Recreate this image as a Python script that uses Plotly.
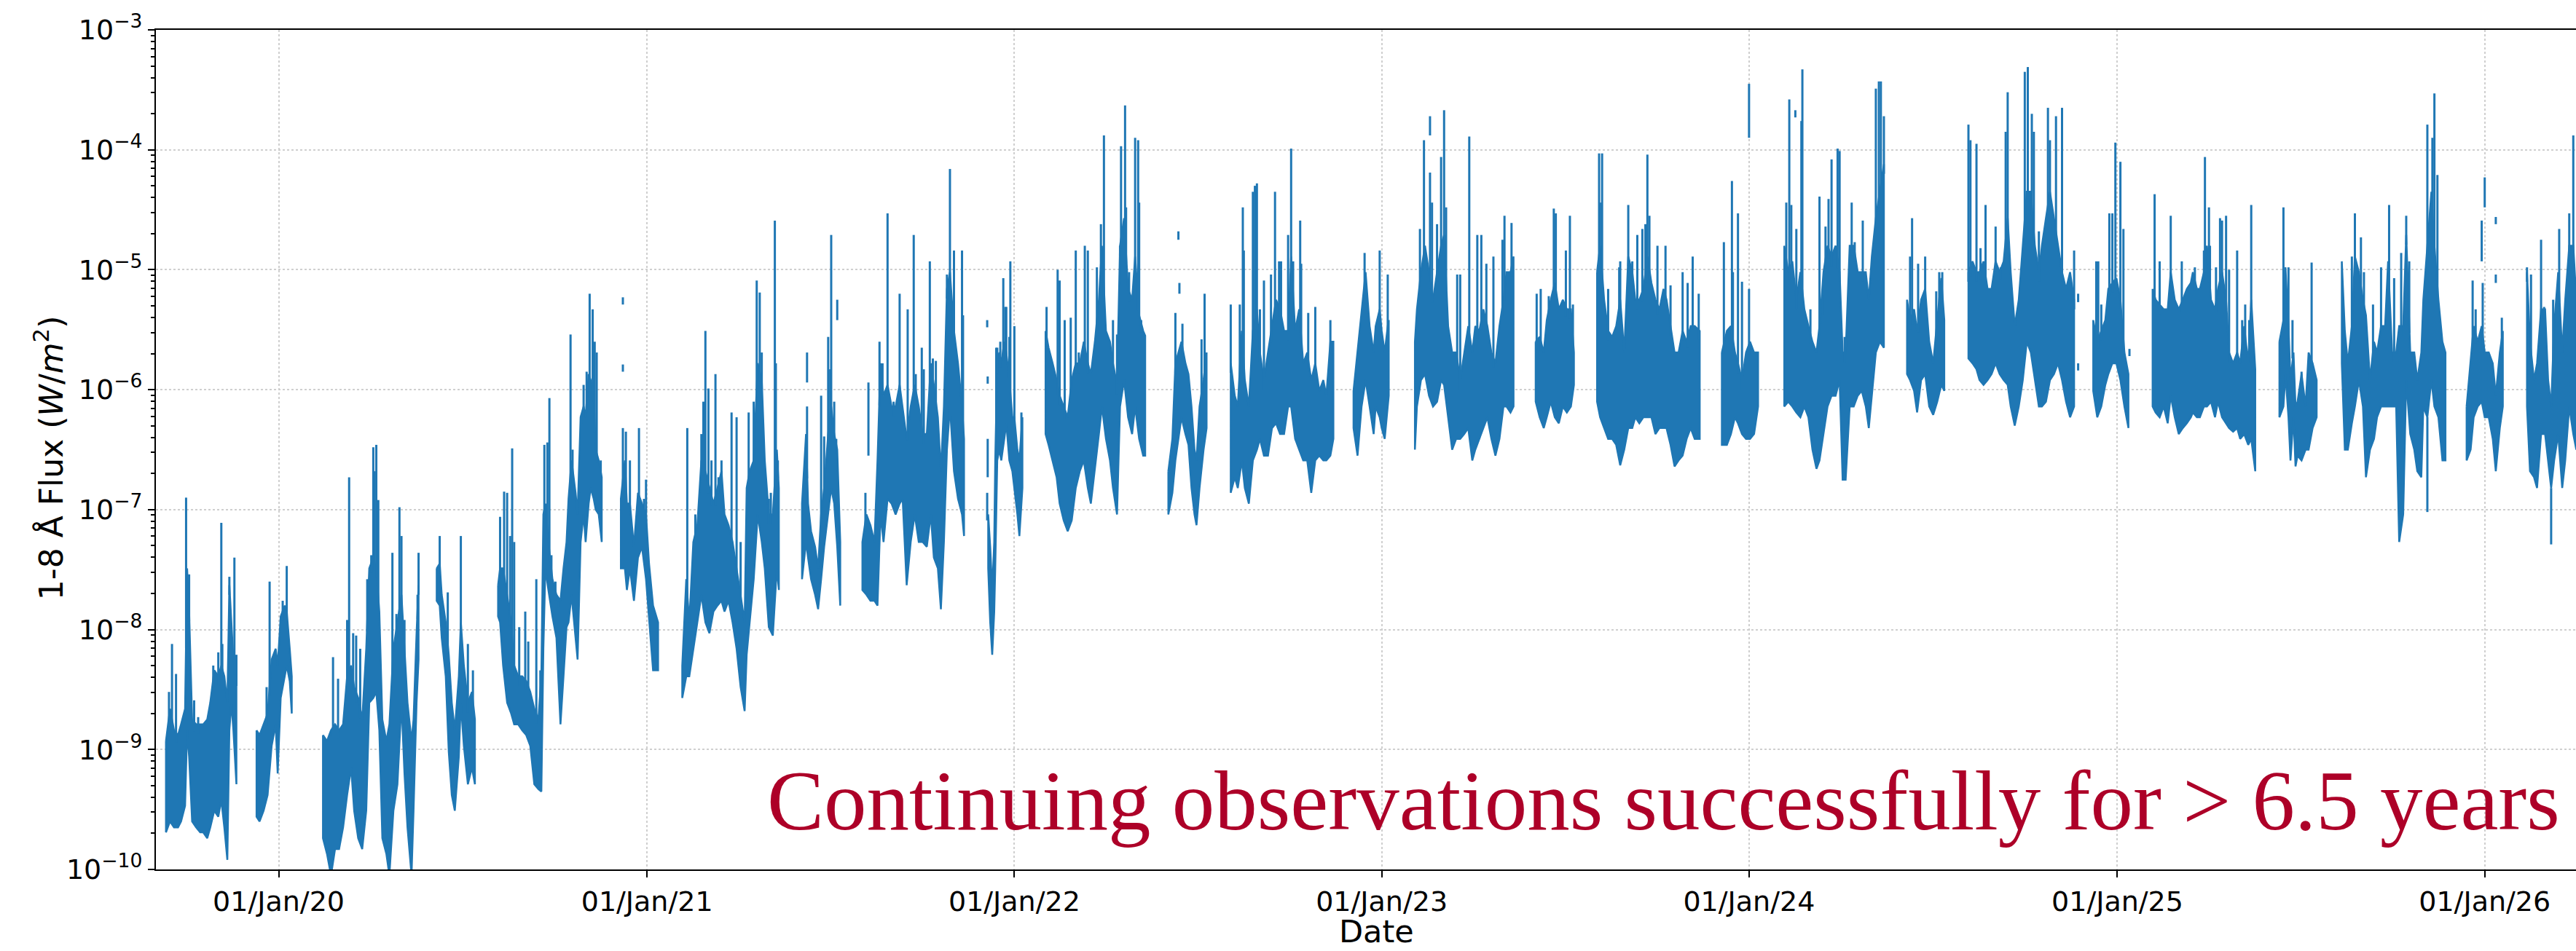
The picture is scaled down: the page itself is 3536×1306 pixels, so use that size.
import numpy as np
import pandas as pd
import plotly.graph_objects as go

# ---------------------------------------------------------------------------
# Data.
# Days are counted from EPOCH; flux values are log10(W/m^2).
# Each observing segment lists (day, log10 lower envelope, log10 upper envelope)
# ---------------------------------------------------------------------------
EPOCH = pd.Timestamp("2020-01-01")

seg_2019_09 = [(-112,-9.69,-8.93),(-108,-9.60,-8.66),(-104,-9.65,-8.84),(-100,-9.65,-8.88),(-97,-9.60,-8.79),
               (-93,-9.47,-8.66),(-91,-8.84,-7.49),(-89,-9.06,-7.85),(-86,-9.60,-8.75),(-82,-9.65,-8.79),
               (-78,-9.69,-8.79),(-75,-9.69,-8.79),(-71,-9.74,-8.75),(-68,-9.65,-8.61),(-64,-9.51,-8.34),
               (-60,-9.56,-8.39),(-57,-9.42,-8.30),(-54,-9.65,-8.39),(-51,-9.92,-8.61),(-49,-8.84,-7.63),
               (-47,-8.61,-7.94),(-45,-8.84,-8.25),(-42,-9.29,-8.39)]
seg_2019_12 = [(-22,-9.56,-8.84),(-19,-9.60,-8.88),(-15,-9.51,-8.79),(-11,-9.38,-8.70),(-7,-8.97,-8.25),
               (-3,-8.79,-8.16),(-1,-9.20,-8.30),(2,-8.57,-7.89),(6,-8.39,-7.80),(8,-8.30,-7.85),
               (11,-8.43,-8.16),(13,-8.70,-8.39)]
seg_2020_02 = [(44,-9.74,-8.88),(48,-9.87,-8.93),(52,-10.05,-8.84),(56,-9.83,-8.79),(60,-9.83,-8.84),
               (64,-9.65,-8.79),(68,-9.38,-8.39),(72,-9.15,-8.30),(75,-9.51,-8.48),(79,-9.74,-8.57),
               (83,-9.83,-8.75),(87,-9.51,-8.16),(90,-8.61,-7.49),(94,-8.57,-7.40),(97,-8.52,-7.49),
               (100,-8.84,-7.85),(103,-9.74,-8.75),(107,-9.87,-8.93),(110,-10.05,-8.79),(114,-9.51,-8.16),
               (118,-9.29,-7.94),(122,-8.61,-7.71),(125,-9.20,-8.16),(128,-9.65,-8.61),(132,-10.05,-8.93),
               (134,-9.51,-8.75),(137,-8.61,-8.03),(139,-8.25,-7.63)]
seg_2020_06 = [(157,-7.76,-7.49),(160,-7.80,-7.45),(162,-8.07,-7.71),(166,-8.39,-7.94),(169,-9.02,-8.21),
               (172,-9.38,-8.61),(175,-9.51,-8.84),(179,-9.06,-8.39),(181,-8.61,-7.94),(184,-8.97,-8.30),
               (188,-9.29,-8.61),(192,-9.15,-8.52),(195,-9.29,-8.75)]
seg_2020_08 = [(218,-7.89,-7.63),(220,-7.94,-7.49),(223,-8.30,-7.49),(227,-8.61,-7.71),(231,-8.70,-7.94),
               (234,-8.79,-8.30),(238,-8.79,-8.39),(242,-8.84,-8.39),(246,-8.88,-8.43),(250,-8.97,-8.52),
               (254,-9.29,-8.66),(258,-9.33,-8.75),(261,-9.35,-8.39),(263,-8.16,-7.04),(265,-7.49,-6.95),
               (268,-7.67,-7.27),(272,-7.89,-7.58),(276,-8.07,-7.71),(280,-8.79,-7.76),(283,-8.39,-7.49),
               (286,-7.98,-7.27),(288,-7.94,-6.91),(291,-7.71,-6.59),(295,-8.07,-6.86),(297,-8.25,-7.04),
               (300,-7.27,-6.23),(303,-7.04,-6.14),(305,-7.27,-6.23),(308,-6.95,-5.87),(310,-6.82,-5.92),
               (313,-6.91,-6.05),(315,-7.00,-6.50),(318,-7.04,-6.59),(321,-7.27,-6.73)]
seg_2020_12 = [(340,-7.49,-6.91),(344,-7.49,-6.59),(346,-7.67,-6.95),(349,-7.49,-6.95),(353,-7.76,-7.31),
               (357,-7.40,-6.86),(361,-7.31,-6.95),(365,-7.58,-7.04),(368,-7.89,-7.45),(372,-8.34,-7.80),
               (377,-8.34,-7.94)]
seg_2021_02 = [(401,-8.57,-8.30),(405,-8.39,-7.58),(408,-8.39,-7.94),(412,-8.16,-7.27),(416,-7.94,-7.13),
               (420,-7.71,-6.59),(424,-7.94,-6.68),(428,-8.03,-6.82),(432,-7.85,-6.95),(436,-7.80,-6.82),
               (440,-7.76,-6.68),(443,-7.85,-7.04),(447,-7.76,-7.13),(451,-7.94,-7.27),(455,-8.16,-7.49),
               (459,-8.48,-7.71),(463,-8.68,-7.94),(465,-8.21,-6.82),(468,-7.94,-6.68),(472,-7.58,-6.59),
               (476,-7.04,-5.78),(480,-7.27,-5.92),(483,-7.49,-6.59),(487,-7.98,-7.04),(491,-8.05,-7.04),
               (495,-7.49,-6.50),(497,-7.67,-6.82)]
seg_2021_06 = [(520,-7.58,-6.95),(524,-7.27,-6.37),(526,-7.40,-6.95),(529,-7.58,-7.18),(533,-7.71,-7.31),
               (536,-7.83,-7.49),(539,-7.58,-7.04),(542,-7.31,-6.82),(546,-7.04,-6.37),(549,-6.82,-6.14),
               (552,-6.95,-6.37),(555,-7.31,-6.50),(558,-7.80,-7.27)]
seg_2021_08 = [(580,-7.67,-7.27),(584,-7.71,-7.04),(588,-7.76,-7.13),(592,-7.76,-7.27),(595,-7.80,-6.59),
               (598,-7.04,-5.78),(601,-7.27,-6.05),(605,-6.91,-5.96),(609,-6.95,-6.14),(613,-7.04,-6.14),
               (617,-6.95,-5.96),(620,-6.91,-6.14),(624,-7.63,-6.41),(628,-7.27,-6.14),(632,-7.04,-5.96),
               (636,-7.27,-6.14),(640,-7.27,-6.37),(644,-7.31,-6.37),(648,-7.04,-5.78),(651,-7.40,-5.96),
               (655,-7.49,-6.23),(658,-7.83,-6.68),(661,-7.27,-6.14),(664,-6.50,-5.16),(667,-6.14,-5.02),
               (671,-6.68,-5.51),(675,-6.91,-5.78),(679,-7.04,-6.14),(681,-7.22,-6.41)]
seg_2021_12 = [(705,-7.49,-7.04),(707,-7.94,-7.31),(709,-8.21,-7.67),(711,-7.85,-7.27),(712,-7.49,-6.59),
               (714,-6.59,-5.78),(716,-6.50,-5.69),(718,-6.59,-5.78),(721,-6.41,-5.60),(723,-6.28,-5.69),
               (726,-6.59,-5.92),(729,-6.68,-6.23),(731,-6.82,-6.23),(734,-7.04,-6.50),(736,-7.22,-6.59),
               (739,-6.82,-6.23)]
seg_2022_02 = [(762,-6.37,-5.51),(765,-6.46,-5.65),(769,-6.59,-5.78),(773,-6.73,-5.92),(776,-6.95,-6.05),
               (780,-7.09,-6.14),(784,-7.18,-6.23),(788,-7.09,-5.92),(792,-6.82,-5.78),(796,-6.68,-5.78),
               (800,-6.59,-5.60),(804,-6.82,-5.78),(807,-6.95,-5.87),(811,-6.68,-5.60),(815,-6.37,-5.25),
               (818,-6.14,-4.80),(822,-6.41,-5.51),(826,-6.59,-5.60),(829,-6.82,-5.78),(833,-7.04,-5.96),
               (836,-6.14,-4.80),(840,-5.92,-4.57),(844,-6.23,-5.16),(848,-6.37,-5.25),(851,-6.14,-4.89),
               (855,-6.41,-5.38),(859,-6.55,-5.51),(861,-6.55,-5.55)]
seg_2022_06 = [(884,-7.04,-6.68),(888,-6.86,-6.41),(891,-6.59,-5.78),(894,-6.41,-5.69),(897,-6.23,-5.60),
               (901,-6.37,-5.78),(904,-6.46,-5.87),(907,-6.82,-6.14),(910,-7.04,-6.50),(912,-7.13,-6.59),
               (915,-6.82,-6.14),(919,-6.50,-5.92),(922,-6.32,-5.69)]
seg_2022_08 = [(946,-6.86,-5.78),(950,-6.73,-6.05),(953,-6.82,-6.14),(957,-6.59,-5.51),(960,-6.82,-5.92),
               (964,-6.95,-6.14),(968,-6.59,-5.51),(972,-6.50,-5.33),(975,-6.41,-5.69),(979,-6.55,-5.92),
               (983,-6.55,-5.69),(987,-6.32,-5.47),(991,-6.28,-5.25),(995,-6.37,-5.33),(999,-6.37,-5.51),
               (1003,-6.14,-5.51),(1006,-6.14,-4.89),(1010,-6.41,-5.51),(1014,-6.50,-5.33),(1018,-6.59,-5.78),
               (1022,-6.59,-5.69),(1026,-6.86,-5.92),(1030,-6.59,-5.78),(1034,-6.55,-6.01),(1038,-6.59,-5.92),
               (1041,-6.59,-6.05),(1045,-6.55,-5.60),(1048,-6.41,-5.60)]
seg_2022_12 = [(1068,-6.32,-6.01),(1072,-6.55,-5.69),(1076,-6.14,-5.33),(1080,-5.92,-5.02),(1084,-6.14,-5.47),
               (1088,-6.37,-5.69),(1090,-6.14,-5.47),(1094,-6.23,-5.33),(1096,-6.32,-5.51),(1099,-6.41,-5.69),
               (1102,-6.14,-5.47),(1103,-6.05,-5.42)]
seg_2023_02 = [(1129,-6.50,-5.60),(1131,-6.14,-5.33),(1135,-5.92,-5.02),(1139,-5.87,-4.80),(1143,-6.05,-5.02),
               (1147,-6.14,-5.25),(1151,-6.10,-5.02),(1155,-5.92,-4.80),(1158,-5.96,-4.71),(1162,-6.23,-5.47),
               (1166,-6.50,-5.69),(1170,-6.41,-5.69),(1174,-6.41,-5.92),(1178,-6.37,-5.69),(1182,-6.32,-5.47),
               (1186,-6.59,-5.69),(1189,-6.50,-5.47),(1193,-6.41,-5.51),(1197,-6.32,-5.33),(1201,-6.23,-5.47),
               (1205,-6.41,-5.69),(1209,-6.55,-5.78),(1213,-6.41,-5.47),(1217,-6.14,-5.25),(1220,-6.14,-5.02),
               (1224,-6.19,-5.02),(1227,-6.14,-4.89)]
seg_2023_06 = [(1249,-6.10,-5.60),(1253,-6.23,-5.56),(1257,-6.32,-5.69),(1260,-6.23,-5.42),(1264,-6.10,-5.25),
               (1268,-6.23,-5.11),(1272,-6.28,-5.33),(1276,-6.14,-5.25),(1280,-6.19,-5.33),(1284,-6.14,-5.33),
               (1287,-5.96,-5.69)]
seg_2023_08 = [(1310,-6.10,-5.02),(1313,-6.23,-4.80),(1317,-6.32,-5.25),(1321,-6.41,-5.51),(1325,-6.41,-5.56),
               (1329,-6.46,-5.47),(1333,-6.63,-5.25),(1337,-6.50,-5.69),(1341,-6.32,-4.89),(1345,-6.32,-5.02),
               (1348,-6.23,-5.25),(1352,-6.28,-5.25),(1356,-6.23,-5.16),(1360,-6.23,-4.89),(1364,-6.23,-5.11),
               (1368,-6.37,-5.25),(1372,-6.32,-5.33),(1376,-6.32,-5.16),(1379,-6.32,-5.25),(1383,-6.46,-5.47),
               (1387,-6.64,-5.69),(1391,-6.59,-5.69),(1395,-6.55,-5.51),(1399,-6.41,-5.60),(1403,-6.32,-5.47),
               (1407,-6.41,-5.47),(1412,-6.41,-5.51)]
seg_2023_12 = [(1434,-6.46,-5.69),(1439,-6.46,-5.51),(1443,-6.37,-5.47),(1447,-6.23,-5.69),(1450,-6.28,-5.78),
               (1454,-6.37,-5.92),(1458,-6.41,-5.69),(1462,-6.41,-5.60),(1466,-6.37,-5.69),(1470,-6.14,-5.69)]
seg_2024_02 = [(1496,-6.14,-4.80),(1500,-6.10,-5.02),(1504,-6.14,-4.93),(1508,-6.19,-5.25),(1512,-6.23,-5.02),
               (1516,-6.14,-5.33),(1520,-6.23,-5.47),(1524,-6.50,-5.60),(1528,-6.66,-5.69),(1531,-6.59,-5.47),
               (1535,-6.37,-5.02),(1539,-6.14,-4.80),(1543,-6.05,-4.89),(1547,-6.05,-4.80),(1551,-5.92,-5.02),
               (1554,-6.75,-5.69),(1557,-6.75,-5.69),(1561,-6.14,-4.80),(1565,-6.14,-4.80),(1569,-6.05,-5.02),
               (1573,-6.01,-5.02),(1577,-6.14,-5.02),(1580,-6.32,-5.25),(1583,-6.05,-4.89),(1587,-5.69,-4.57),
               (1591,-5.60,-4.35),(1595,-5.65,-4.12)]
seg_2024_06 = [(1618,-5.87,-5.25),(1621,-5.92,-5.42),(1625,-6.01,-5.33),(1628,-6.19,-5.51),(1632,-5.92,-5.25),
               (1636,-5.87,-5.16),(1640,-6.14,-5.60),(1644,-6.21,-5.78),(1648,-6.10,-5.42),(1652,-5.96,-5.07),
               (1655,-6.01,-5.42)]
seg_2024_08 = [(1679,-5.74,-5.02),(1683,-5.78,-4.93),(1687,-5.83,-5.02),(1690,-5.92,-5.02),(1694,-5.96,-4.93),
               (1698,-5.92,-5.16),(1702,-5.87,-5.16),(1706,-5.78,-4.93),(1710,-5.87,-5.02),(1714,-5.92,-4.93),
               (1718,-5.96,-4.57),(1721,-6.14,-5.02),(1725,-6.30,-5.47),(1729,-6.14,-5.25),(1733,-5.92,-4.80),
               (1737,-5.60,-4.35),(1741,-5.69,-4.35),(1745,-5.92,-4.80),(1749,-6.14,-5.02),(1752,-6.14,-4.80),
               (1756,-6.10,-4.57),(1760,-5.92,-4.35),(1764,-5.87,-4.57),(1768,-5.78,-4.80),(1772,-5.92,-5.02),
               (1776,-6.10,-5.16),(1780,-6.23,-5.02),(1784,-6.14,-5.25)]
seg_2024_12 = [(1803,-6.01,-5.42),(1807,-6.23,-5.60),(1811,-6.14,-5.51),(1815,-5.96,-5.42),(1818,-5.87,-5.16),
               (1822,-5.78,-5.11),(1826,-5.78,-5.07),(1830,-5.92,-5.25),(1834,-6.14,-5.69),(1838,-6.32,-5.87)]
seg_2025_02 = [(1862,-6.14,-5.16),(1865,-6.19,-5.25),(1869,-6.23,-5.29),(1873,-6.14,-5.33),(1877,-6.28,-5.33),
               (1880,-6.05,-5.02),(1884,-6.23,-5.25),(1888,-6.37,-5.33),(1892,-6.32,-5.25),(1896,-6.28,-5.16),
               (1900,-6.23,-5.11),(1902,-6.19,-5.02),(1906,-6.23,-5.16),(1909,-6.23,-5.16),(1913,-6.14,-5.02),
               (1916,-6.14,-4.80),(1920,-6.10,-5.25),(1924,-6.23,-5.33),(1927,-6.10,-5.16),(1931,-6.23,-5.02),
               (1935,-6.28,-5.25),(1938,-6.32,-5.69),(1942,-6.35,-5.78),(1946,-6.32,-5.69),(1949,-6.41,-5.78),
               (1953,-6.37,-5.47),(1957,-6.46,-5.78),(1960,-6.41,-5.25),(1964,-6.68,-5.83)]
seg_2025_06 = [(1988,-6.23,-5.60),(1992,-6.14,-5.42),(1994,-5.87,-4.98),(1997,-6.23,-5.47),(1999,-6.59,-5.92),
               (2002,-6.23,-5.69),(2004,-6.64,-6.14),(2006,-6.55,-6.10),(2010,-6.59,-5.87),(2014,-6.50,-6.14),
               (2017,-6.50,-5.69),(2021,-6.32,-5.78),(2025,-6.23,-5.92)]
seg_2025_08 = [(2050,-5.78,-4.93),(2053,-6.50,-5.51),(2056,-6.50,-5.78),(2060,-6.28,-5.47),(2063,-6.14,-4.89),
               (2067,-5.92,-5.02),(2071,-6.14,-5.25),(2074,-6.73,-5.38),(2078,-6.50,-5.92),(2082,-6.41,-5.60),
               (2085,-6.23,-5.69),(2089,-6.14,-5.47),(2093,-6.14,-5.47),(2096,-6.14,-4.93),(2100,-6.14,-5.69),
               (2104,-6.14,-5.69),(2107,-7.27,-5.47),(2111,-7.04,-5.47),(2114,-5.92,-4.71),(2118,-6.37,-5.69),
               (2122,-6.50,-5.69),(2125,-6.68,-5.92),(2129,-6.73,-5.69),(2131,-6.14,-5.25),(2135,-6.23,-4.80),
               (2139,-5.92,-4.35),(2142,-6.14,-4.80),(2146,-6.23,-5.25),(2150,-6.59,-5.60),(2153,-6.59,-5.69)]
seg_2025_12 = [(2174,-6.59,-6.14),(2178,-6.50,-5.78),(2181,-6.23,-5.47),(2185,-6.14,-5.60),(2189,-6.10,-5.47),
               (2192,-6.23,-5.69),(2196,-6.23,-5.69),(2200,-6.41,-5.78),(2203,-6.68,-6.05),(2207,-6.32,-5.69),
               (2210,-6.14,-5.51)]
seg_2026_02 = [(2234,-6.14,-5.02),(2237,-6.68,-5.60),(2241,-6.73,-5.92),(2244,-6.82,-5.78),(2248,-6.37,-5.33),
               (2252,-6.37,-5.33),(2255,-6.59,-5.92),(2258,-6.82,-6.14),(2261,-6.59,-5.47),(2265,-6.37,-5.02),
               (2269,-6.82,-5.69),(2272,-6.59,-5.25),(2276,-6.14,-4.80),(2280,-6.37,-4.80),(2283,-6.50,-5.25)]

# Flare spikes: (day, log10 peak flux)
spikes = [(-109,-8.52),(-106,-8.12),(-102,-8.37),(-92,-6.90),(-89,-7.54),(-84,-8.59),(-80,-8.73),(-65,-8.30),
          (-60,-8.19),(-57,-7.11),(-56,-8.12),(-49,-7.56),(-44,-7.40),(-42,-8.21),
          (-12,-8.48),(-9,-7.60),(4,-7.76),(8,-7.47),
          (54,-8.23),(59,-8.41),(68,-7.92),(70,-6.73),(74,-8.03),(77,-8.05),(81,-8.16),(88,-7.58),(92,-7.38),
          (94,-6.48),(95,-6.68),(97,-6.46),(99,-6.92),(113,-7.36),(117,-7.87),(120,-6.98),(122,-7.22),
          (125,-7.92),(138,-7.71),(139,-7.36),
          (160,-7.22),(168,-7.69),(181,-7.22),(188,-8.12),(193,-8.34),
          (220,-7.06),(224,-6.85),(227,-6.86),(230,-7.22),(232,-6.49),(234,-7.27),(239,-7.98),(245,-7.85),
          (248,-8.10),(256,-7.58),(260,-8.34),(264,-6.46),(267,-6.44),(269,-6.07),(271,-7.38),(275,-7.60),
          (278,-7.76),(290,-5.54),(292,-6.50),(299,-6.86),(301,-6.21),(303,-5.96),(306,-5.85),(309,-5.20),
          (312,-5.33),(314,-5.60),(316,-5.69),(320,-6.59),
          (342,-6.32),(345,-6.35),(349,-6.59),(358,-6.32),(363,-6.91),(365,-6.75),
          (406,-6.32),(414,-7.04),(420,-6.37),(422,-6.10),(424,-5.51),(427,-5.99),(430,-6.59),(434,-5.87),
          (437,-6.73),(440,-6.59),(450,-6.19),(455,-6.23),(459,-7.27),(467,-6.19),(472,-6.10),(475,-5.09),
          (478,-5.19),(480,-5.69),(487,-6.91),(489,-6.86),(493,-4.59),(494,-5.78),(496,-6.59),
          (525,-6.14),(539,-6.05),(542,-6.39),(546,-5.56),(548,-5.83),(549,-4.71),(552,-6.10),(554,-6.41),
          (583,-6.86),(597,-5.60),(600,-5.78),(605,-4.53),(611,-6.10),(617,-5.20),(625,-5.33),(631,-4.71),
          (633,-5.87),(639,-5.65),(641,-5.83),(647,-4.93),(650,-5.74),(653,-5.76),(664,-5.04),(667,-4.16),
          (671,-4.84),(679,-4.84),(680,-5.38),
          (713,-5.65),(714,-5.65),(717,-5.60),(720,-5.07),(722,-5.31),(723,-5.31),(726,-5.56),(727,-4.93),
          (731,-5.47),(738,-6.19),
          (763,-5.31),(774,-5.00),(776,-5.09),(781,-5.42),(787,-5.40),(792,-4.84),(795,-5.69),(801,-4.80),
          (804,-4.84),(813,-4.98),(817,-4.62),(820,-3.88),(829,-5.42),(833,-5.54),(836,-4.80),(837,-3.97),
          (841,-3.63),(842,-4.48),(845,-5.02),(851,-3.90),(854,-3.92),(855,-4.44),(857,-5.42),
          (891,-5.36),(898,-5.45),(917,-5.58),(920,-5.20),
          (946,-5.29),(955,-5.29),(958,-4.48),(959,-4.84),(968,-4.35),(970,-4.30),(972,-4.28),(975,-5.33),
          (979,-5.09),(986,-5.04),(990,-4.35),(994,-4.93),(996,-4.93),(1003,-4.71),(1006,-3.99),(1008,-4.93),
          (1015,-4.59),(1016,-4.95),(1023,-5.36),(1030,-5.31),(1045,-5.42),
          (1079,-4.86),(1094,-4.84),(1102,-5.04),
          (1134,-4.66),(1138,-3.92),(1144,-4.19),(1146,-4.44),(1151,-4.62),(1155,-4.06),(1158,-3.67),
          (1160,-4.48),(1171,-5.04),(1174,-5.04),(1183,-3.89),(1191,-4.71),(1195,-4.71),(1200,-4.95),
          (1207,-4.89),(1216,-4.75),(1218,-4.55),(1225,-4.61),
          (1250,-5.20),(1254,-5.16),(1262,-5.22),(1267,-4.49),(1269,-4.53),(1279,-4.84),(1283,-4.55),(1286,-5.29),
          (1312,-4.03),(1313,-4.44),(1315,-4.03),(1321,-5.16),(1332,-4.98),(1333,-4.93),(1341,-4.46),
          (1345,-4.93),(1350,-4.71),(1355,-4.66),(1358,-4.62),(1360,-4.04),(1362,-4.55),(1370,-4.80),
          (1378,-4.80),(1383,-5.13),(1395,-5.02),(1400,-5.11),(1405,-4.89),(1411,-5.20),
          (1436,-4.77),(1444,-4.26),(1445,-5.02),(1450,-4.53),(1454,-5.10),(1461,-5.16),
          (1498,-4.44),(1501,-3.58),(1503,-4.46),(1508,-4.66),(1513,-3.76),(1514,-3.33),(1522,-5.33),
          (1531,-4.39),(1534,-5.38),(1537,-4.64),(1540,-4.41),(1543,-4.08),(1549,-3.99),(1551,-4.01),
          (1556,-5.56),(1563,-4.44),(1566,-4.77),(1574,-4.59),(1587,-3.49),(1590,-3.43),(1592,-3.43),(1595,-3.72),
          (1621,-4.89),(1623,-4.57),(1629,-4.95),(1636,-4.89),(1647,-5.18),(1650,-5.02),(1653,-5.02),
          (1679,-3.79),(1681,-3.92),(1687,-3.95),(1691,-4.82),(1696,-4.46),(1706,-4.64),(1711,-4.98),
          (1716,-3.85),(1718,-3.52),(1735,-3.35),(1738,-3.31),(1742,-3.70),(1744,-3.85),(1749,-4.68),
          (1758,-3.65),(1760,-3.92),(1766,-3.72),(1772,-3.65),(1784,-4.84),
          (1806,-4.93),(1808,-4.93),(1811,-5.29),(1819,-4.53),(1822,-4.53),(1825,-3.94),(1830,-4.10),(1833,-4.66),
          (1864,-4.37),(1869,-4.93),(1880,-4.55),(1891,-4.93),(1904,-4.98),(1913,-4.84),(1914,-4.06),
          (1918,-4.48),(1919,-4.80),(1925,-4.98),(1929,-4.57),(1931,-4.59),(1935,-4.55),(1938,-5.00),
          (1946,-4.84),(1951,-5.42),(1954,-5.29),(1958,-5.42),(1960,-4.46),
          (1992,-4.48),(1997,-4.98),(2010,-5.85),(2020,-4.94),
          (2060,-4.89),(2063,-4.53),(2069,-4.73),(2072,-5.02),(2081,-5.29),(2089,-4.98),(2097,-4.46),
          (2102,-5.07),(2109,-4.86),(2114,-4.55),(2117,-4.93),(2135,-3.79),(2140,-3.90),(2142,-3.53),(2145,-4.21),
          (2180,-5.09),(2183,-5.33),(2190,-5.11),(2209,-5.40),
          (2234,-4.98),(2238,-5.04),(2248,-4.75),(2251,-5.31),(2260,-5.25),(2266,-4.66),(2276,-4.53),(2280,-3.88)]

# Detached short pieces and dips: (day, log10 low, log10 high)
fragments = [(342,-5.85,-5.79),(342,-5.29,-5.23),(525,-5.94,-5.69),(555,-5.42,-5.25),(586,-6.55,-5.94),
             (704,-5.48,-5.42),(704.5,-5.95,-5.89),(704.5,-6.73,-6.41),(704,-7.09,-6.86),
             (894,-4.75,-4.68),(895,-5.20,-5.11),(1144,-3.88,-3.72),(1461,-3.90,-3.45),(1507,-3.73,-3.67),
             (1788,-5.27,-5.20),(1788,-5.84,-5.78),(1839,-5.72,-5.66),(2001,-5.74,-5.42),
             (2135,-7.02,-6.23),(2192,-4.48,-4.23),(2189,-4.93,-4.59),(2203,-4.62,-4.56),(2203,-5.11,-5.04),
             (2258,-7.29,-6.82)]

segments = [seg_2019_09, seg_2019_12, seg_2020_02, seg_2020_06, seg_2020_08, seg_2020_12, seg_2021_02,
            seg_2021_06, seg_2021_08, seg_2021_12, seg_2022_02, seg_2022_06, seg_2022_08, seg_2022_12,
            seg_2023_02, seg_2023_06, seg_2023_08, seg_2023_12, seg_2024_02, seg_2024_06, seg_2024_08,
            seg_2024_12, seg_2025_02, seg_2025_06, seg_2025_08, seg_2025_12, seg_2026_02]

year_ticks = ["2020-01-01", "2021-01-01", "2022-01-01", "2023-01-01", "2024-01-01", "2025-01-01", "2026-01-01"]
y_exponents = [-10, -9, -8, -7, -6, -5, -4, -3]

BLUE = "#1f77b4"
RED = "#AD0028"


def to_date(d):
    return EPOCH + pd.to_timedelta(d, unit="D")


# ---- band polygons (dense part of the 1-minute series) ----
bx, by = [], []
all_d, all_hi = [], []
for seg in segments:
    d = [s[0] for s in seg]
    lo = [s[1] for s in seg]
    hi = [s[2] for s in seg]
    xs = d + d[::-1] + [d[0]]
    ys = hi + lo[::-1] + [hi[0]]
    bx += [to_date(v) for v in xs] + [None]
    by += [10.0 ** v for v in ys] + [None]
    all_d += d
    all_hi += hi

all_d = np.array(all_d, dtype=float)
all_hi = np.array(all_hi, dtype=float)

# ---- spikes drawn from the band up to the peak ----
sx, sy = [], []
for d, p in spikes:
    base = float(np.interp(d, all_d, all_hi)) - 0.08
    t = to_date(d)
    sx += [t, t, None]
    sy += [10.0 ** base, 10.0 ** p, None]

fx, fy = [], []
for d, lo, hi in fragments:
    t = to_date(d)
    fx += [t, t, None]
    fy += [10.0 ** lo, 10.0 ** hi, None]

fig = go.Figure()
fig.add_trace(go.Scatter(x=bx, y=by, mode="lines", fill="toself", fillcolor=BLUE,
                         line=dict(color=BLUE, width=2.5), hoverinfo="skip"))
fig.add_trace(go.Scatter(x=sx, y=sy, mode="lines", line=dict(color=BLUE, width=3), hoverinfo="skip"))
fig.add_trace(go.Scatter(x=fx, y=fy, mode="lines", line=dict(color=BLUE, width=3), hoverinfo="skip"))

fig.add_annotation(xref="paper", yref="paper", x=0.994, y=0.024, xanchor="right", yanchor="bottom",
                   text="Continuing observations successfully for &gt; 6.5 years", showarrow=False,
                   font=dict(family="Liberation Serif", size=117, color=RED))

# axis titles placed as annotations (figure is cropped on the right in the reference)
fig.add_annotation(xref="paper", yref="paper", x=0.5045, y=-0.074, xanchor="center", yanchor="middle",
                   text="Date", showarrow=False, font=dict(family="DejaVu Sans", size=43, color="black"))
fig.add_annotation(xref="paper", yref="paper", x=-0.0445, y=0.49, xanchor="center", yanchor="middle",
                   textangle=-90, text="1-8 \u00c5 Flux (<i>W</i>/<i>m</i><sup>2</sup>)", showarrow=False,
                   font=dict(family="DejaVu Sans", size=44, color="black"))

fig.update_layout(
    width=3536, height=1306,
    margin=dict(l=214, r=0, t=41, b=112),
    paper_bgcolor="white", plot_bgcolor="white",
    showlegend=False,
    font=dict(family="DejaVu Sans", size=38, color="black"),
)
fig.update_xaxes(
    type="date",
    range=[to_date(-122), to_date(2282.7)],
    tickvals=year_ticks, tickformat="%d/%b/%y",
    ticks="outside", ticklen=9, tickwidth=2, tickcolor="black",
    showline=True, linewidth=2, linecolor="black", mirror=True,
    showgrid=True, gridcolor="#cfcfcf", griddash="dot", gridwidth=2,
    zeroline=False,
)
fig.update_yaxes(
    type="log", range=[-10, -3],
    tickvals=[10.0 ** e for e in y_exponents],
    ticktext=["10<sup>\u2212%d</sup>" % (-e) for e in y_exponents],
    ticks="outside", ticklen=9, tickwidth=2, tickcolor="black",
    minor=dict(ticks="outside", ticklen=5, tickwidth=1.5, tickcolor="black", dtick="D1", showgrid=False),
    showline=True, linewidth=2, linecolor="black", mirror=False,
    showgrid=True, gridcolor="#cfcfcf", griddash="dot", gridwidth=2,
    zeroline=False,
)

fig.write_html("out.html")
